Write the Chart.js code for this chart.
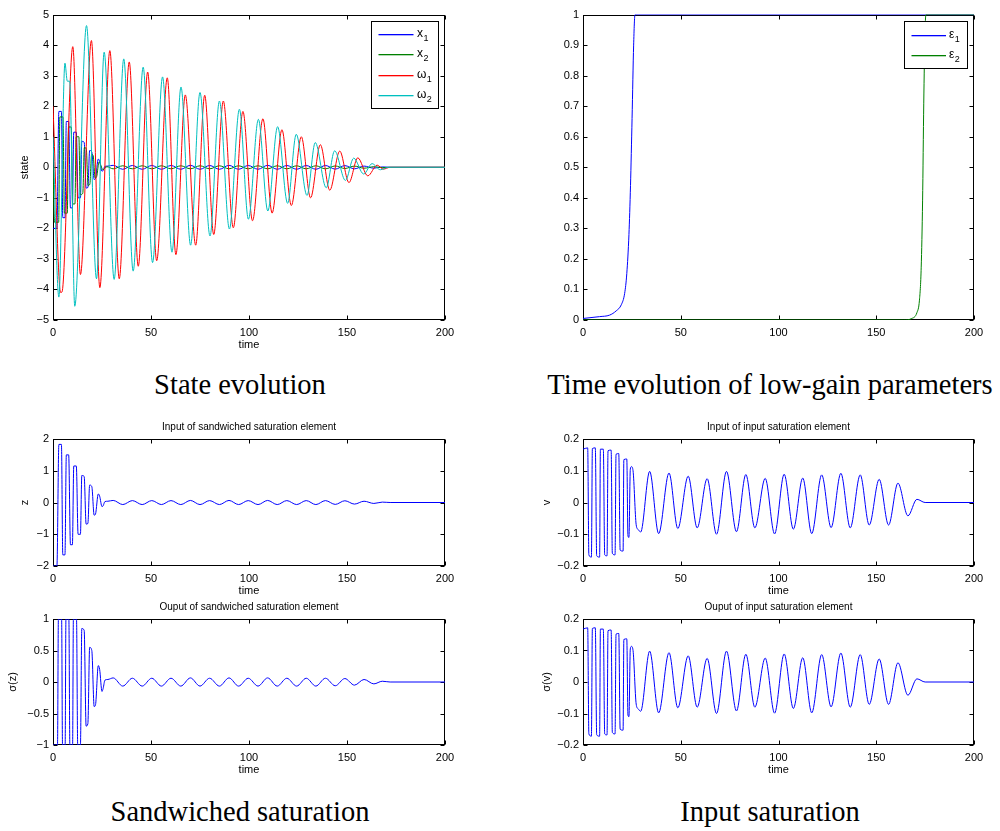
<!DOCTYPE html>
<html><head><meta charset="utf-8">
<script src="https://cdn.jsdelivr.net/npm/chart.js@4.4.0/dist/chart.umd.min.js"></script>
<style>
body{margin:0;background:#fff;width:1000px;height:831px;position:relative;overflow:hidden}
canvas{position:absolute}
.cap{position:absolute;width:500px;text-align:center;font-family:'Liberation Serif','Times New Roman',serif;font-size:28.5px;line-height:32px;color:#000;white-space:nowrap}
</style></head><body>
<canvas id="cA"></canvas><canvas id="cB"></canvas>
<canvas id="cC"></canvas><canvas id="cD"></canvas>
<canvas id="cE"></canvas><canvas id="cF"></canvas>
<div class="cap" style="left:-10px;top:369px">State evolution</div>
<div class="cap" style="left:520px;top:369px">Time evolution of low-gain parameters</div>
<div class="cap" style="left:-10px;top:796px">Sandwiched saturation</div>
<div class="cap" style="left:520px;top:796px">Input saturation</div>
<script>
// ---------- data (time, value) ----------
const timeTicks = [0, 50, 100, 150, 200];

const x1 = [[0,-2],[2.0,-2],[3.0,1.83],[4.3,1.83],[5.0,-1.65],[6.1,-1.65],[6.8,1.5],[8.0,1.5],[8.9,-1.33],[9.9,-1.33],[10.6,1.15],[11.9,1.15],[12.8,-1.0],[14.0,-1.0],[14.7,0.85],[15.9,0.82],[16.9,-0.68],[17.8,-0.66],[18.7,0.55],[19.8,0.5],[21.0,-0.4],[21.7,-0.36],[23.1,0.27],[23.8,0.2],[25.0,-0.13],[25.6,-0.1],[26.5,0.03],[28,0.04],
[30.7,0.065],[35.6,-0.065],[40.5,0.06],[45.5,-0.065],[50.4,0.06],[55.3,-0.065],[60.2,0.06],[65.2,-0.065],[70.1,0.065],[75.0,-0.065],[79.9,0.06],[84.9,-0.065],[89.8,0.065],[94.7,-0.065],[99.6,0.06],[104.6,-0.065],[109.5,0.065],[114.4,-0.065],[119.3,0.06],[124.3,-0.065],[129.2,0.06],[134.1,-0.065],[139.0,0.06],[144.0,-0.06],[148.9,0.055],[153.8,-0.05],[158.7,0.04],[163.7,-0.03],[168,0.012],[172,0],[200,0]];

const x2 = [[0,0],[0.8,-1.8],[2.9,-1.8],[3.5,1.65],[5.1,1.65],[5.8,-1.5],[7.3,-1.5],[7.9,1.32],[9.3,1.32],[10.0,-1.2],[11.2,-1.2],[11.8,1.0],[13.2,1.0],[13.9,-0.9],[15.2,-0.85],[16.0,0.65],[17.0,0.6],[17.9,-0.6],[18.8,-0.55],[19.7,0.42],[20.5,0.38],[21.5,-0.35],[22.3,-0.3],[23.5,0.18],[25.5,-0.08],[27.5,0.02],
[30.7,-0.05],[35.6,0.05],[40.5,-0.05],[45.5,0.05],[50.4,-0.05],[55.3,0.05],[60.2,-0.05],[65.2,0.05],[70.1,-0.05],[75.0,0.05],[79.9,-0.05],[84.9,0.05],[89.8,-0.05],[94.7,0.05],[99.6,-0.05],[104.6,0.05],[109.5,-0.05],[114.4,0.05],[119.3,-0.05],[124.3,0.05],[129.2,-0.05],[134.1,0.05],[139.0,-0.05],[144.0,0.045],[148.9,-0.04],[153.8,0.04],[158.7,-0.03],[163.7,0.02],[168,-0.01],[172,0],[200,0]];

const w1 = [[0,2.0],[3.9,-4.1],[4.6,-4.08],[10.1,3.95],[14.0,-3.51],[19.6,4.15],[23.9,-3.94],[29.0,3.82],[33.8,-3.65],[38.9,3.45],[43.5,-3.24],[48.3,3.12],[52.9,-3.06],[58.3,2.93],[62.7,-2.86],[67.5,2.37],[72.8,-2.55],[77.4,2.36],[82.0,-2.2],[86.9,2.17],[92.0,-1.98],[96.9,1.83],[101.8,-1.75],[107.1,1.59],[111.8,-1.5],[116.8,1.23],[121.6,-1.25],[126.7,1.0],[131.4,-1.0],[136.4,0.74],[141.2,-0.75],[146.3,0.53],[151.0,-0.5],[155.5,0.31],[160.6,-0.28],[165.4,0.07],[168.5,-0.06],[172,0],[200,0]];

const w2 = [[0,1.0],[3.0,-4.25],[6.1,3.41],[7.3,2.82],[8.5,2.82],[11.1,-4.55],[17.1,4.64],[22.2,-3.65],[26.1,3.77],[31.2,-3.67],[36.1,3.55],[40.9,-3.4],[46.0,3.28],[50.8,-3.12],[55.9,2.96],[60.7,-2.78],[65.3,2.63],[70.2,-2.55],[75.0,2.45],[80.1,-2.25],[84.9,2.17],[90.0,-2.02],[95.1,1.9],[99.7,-1.7],[104.8,1.57],[109.6,-1.43],[114.6,1.33],[119.7,-1.18],[124.1,1.08],[129.6,-0.92],[133.8,0.81],[139.4,-0.67],[143.7,0.54],[149.2,-0.43],[153.4,0.3],[158.5,-0.22],[162.8,0.12],[167,-0.08],[171,0],[200,0]];

const eps1 = [[0,0.005],[8.5,0.011],[13.6,0.016],[17,0.03],[19.6,0.05],[21.3,0.087],[22.4,0.152],[23.5,0.28],[24.3,0.44],[25.1,0.66],[25.9,0.9],[26.6,1],[200,1]];
const eps2 = [[0,0],[163.9,0],[168.2,0.005],[170.8,0.024],[172.1,0.065],[173,0.173],[173.7,0.39],[174.3,0.71],[174.9,0.93],[175.4,1],[200,1]];

const z = [[0,-2],[2.0,-2],[3.0,1.83],[4.3,1.83],[5.0,-1.65],[6.1,-1.65],[6.8,1.5],[8.0,1.5],[8.9,-1.33],[9.9,-1.33],[10.6,1.15],[11.9,1.15],[12.8,-1.0],[14.0,-1.0],[14.7,0.85],[15.9,0.82],[16.9,-0.68],[17.8,-0.66],[18.7,0.55],[19.8,0.5],[21.0,-0.4],[21.7,-0.36],[23.1,0.27],[23.8,0.2],[25.0,-0.13],[25.6,-0.1],[26.5,0.03],[28,0.04],
[30.7,0.065],[35.6,-0.065],[40.5,0.06],[45.5,-0.065],[50.4,0.06],[55.3,-0.065],[60.2,0.06],[65.2,-0.065],[70.1,0.065],[75.0,-0.065],[79.9,0.06],[84.9,-0.065],[89.8,0.065],[94.7,-0.065],[99.6,0.06],[104.6,-0.065],[109.5,0.065],[114.4,-0.065],[119.3,0.06],[124.3,-0.065],[129.2,0.06],[134.1,-0.065],[139.0,0.06],[144.0,-0.06],[148.9,0.055],[153.8,-0.05],[158.7,0.04],[163.7,-0.03],[168,0.012],[172,0],[200,0]];

const sigmaZ = [[0,-1],[2.3,-1],[2.75,1],[4.4,1],[4.85,-1],[6.2,-1],[6.6,1],[8.1,1],[8.6,-1],[10.0,-1],[10.4,1],[12.0,1],[12.6,-1],[14.0,-1],[14.7,0.85],[15.9,0.82],[16.9,-0.7],[17.8,-0.66],[18.7,0.55],[19.8,0.5],[21.0,-0.39],[21.7,-0.36],[23.1,0.26],[23.8,0.2],[25.0,-0.15],[25.6,-0.1],[26.5,0.03],[28,0.04],
[30.7,0.065],[35.6,-0.065],[40.5,0.06],[45.5,-0.065],[50.4,0.06],[55.3,-0.065],[60.2,0.06],[65.2,-0.065],[70.1,0.065],[75.0,-0.065],[79.9,0.06],[84.9,-0.065],[89.8,0.065],[94.7,-0.065],[99.6,0.06],[104.6,-0.065],[109.5,0.065],[114.4,-0.065],[119.3,0.06],[124.3,-0.065],[129.2,0.06],[134.1,-0.065],[139.0,0.06],[144.0,-0.06],[148.9,0.055],[153.8,-0.05],[158.7,0.04],[163.7,-0.03],[168,0.012],[172,0],[200,0]];

const v = [[0,0.168],[2.4,0.172],[3.0,-0.165],[4.3,-0.172],[4.8,0.17],[6.3,0.172],[7.0,-0.168],[8.5,-0.172],[8.9,0.168],[10.4,0.168],[11.1,-0.165],[12.3,-0.168],[12.8,0.163],[14.4,0.165],[15.0,-0.16],[16.4,-0.165],[16.9,0.152],[18.3,0.154],[19.0,-0.15],[20.5,-0.153],[20.9,0.135],[22.4,0.137],[23.0,-0.105],[23.5,-0.11],[24.2,0.105],[24.8,0.113],[25.6,0.1],[27.2,-0.07],[28.2,-0.085],[29.5,-0.093],
[34.1,0.098],[38.7,-0.098],[44.0,0.093],[48.5,-0.082],[53.8,0.083],[58.4,-0.08],[63.5,0.075],[68.3,-0.1],[73.4,0.098],[78.5,-0.092],[83.3,0.088],[87.9,-0.08],[93.2,0.076],[98.0,-0.099],[102.9,0.089],[107.6,-0.084],[112.4,0.077],[117.0,-0.098],[122.1,0.087],[126.9,-0.079],[131.9,0.092],[136.7,-0.08],[141.8,0.087],[146.4,-0.071],[151.5,0.073],[156.3,-0.071],[161.1,0.061],[166.2,-0.042],[170.8,0.01],[175,0],[200,0]];

const sigmaV = [[0,0.168],[2.4,0.172],[3.0,-0.165],[4.3,-0.172],[4.8,0.17],[6.3,0.172],[7.0,-0.168],[8.5,-0.172],[8.9,0.168],[10.4,0.168],[11.1,-0.165],[12.3,-0.168],[12.8,0.163],[14.4,0.165],[15.0,-0.16],[16.4,-0.165],[16.9,0.152],[18.3,0.154],[19.0,-0.15],[20.5,-0.153],[20.9,0.135],[22.4,0.137],[23.0,-0.105],[23.5,-0.11],[24.2,0.105],[24.8,0.113],[25.6,0.1],[27.2,-0.07],[28.2,-0.085],[29.5,-0.093],
[34.1,0.098],[38.7,-0.098],[44.0,0.093],[48.5,-0.082],[53.8,0.083],[58.4,-0.08],[63.5,0.075],[68.3,-0.1],[73.4,0.098],[78.5,-0.092],[83.3,0.088],[87.9,-0.08],[93.2,0.076],[98.0,-0.099],[102.9,0.089],[107.6,-0.084],[112.4,0.077],[117.0,-0.098],[122.1,0.087],[126.9,-0.079],[131.9,0.092],[136.7,-0.08],[141.8,0.087],[146.4,-0.071],[151.5,0.073],[156.3,-0.071],[161.1,0.061],[166.2,-0.042],[170.8,0.01],[175,0],[200,0]];

// ---------- rendering ----------
const FAM = "'Liberation Sans', Arial, Helvetica, sans-serif";
Chart.defaults.font.family = FAM;
Chart.defaults.font.size = 11;
Chart.defaults.color = '#000';

const fmt = val => String(Math.round(val * 100) / 100).replace('-', '\u2212');

const frameTicks = {
  id: 'frameTicks',
  beforeDatasetsDraw(chart) {
    const {ctx, chartArea: a, scales: {x, y}} = chart;
    const L = Math.round(a.left) + 0.5, R = Math.round(a.right) - 0.5;
    const T = Math.round(a.top) + 0.5, B = Math.round(a.bottom) - 0.5;
    const tl = 4;
    ctx.save();
    ctx.strokeStyle = '#000'; ctx.lineWidth = 1;
    ctx.strokeRect(L, T, R - L, B - T);
    ctx.beginPath();
    x.ticks.forEach(t => {
      const px = Math.round(x.getPixelForValue(t.value)) + 0.5;
      ctx.moveTo(px, B); ctx.lineTo(px, B - tl);
      ctx.moveTo(px, T); ctx.lineTo(px, T + tl);
    });
    y.ticks.forEach(t => {
      const py = Math.round(y.getPixelForValue(t.value)) + 0.5;
      ctx.moveTo(L, py); ctx.lineTo(L + tl, py);
      ctx.moveTo(R, py); ctx.lineTo(R - tl, py);
    });
    ctx.stroke();
    ctx.restore();
  }
};

const legendBox = {
  id: 'legendBox',
  afterDraw(chart, args, o) {
    if (!o || !o.show) return;
    const {ctx, chartArea: a} = chart;
    const bx = Math.round(a.right - o.right - o.w), by = Math.round(a.top + o.top);
    ctx.save();
    ctx.fillStyle = '#fff';
    ctx.fillRect(bx, by, o.w, o.h);
    ctx.strokeStyle = '#000'; ctx.lineWidth = 1;
    ctx.strokeRect(bx + 0.5, by + 0.5, o.w, o.h);
    ctx.textBaseline = 'middle';
    ctx.textAlign = 'left';
    chart.data.datasets.forEach((ds, i) => {
      const yy = Math.round(by + o.first + i * o.gap);
      ctx.fillStyle = o.colors[i];
      ctx.fillRect(bx + o.l1, yy, o.l2 - o.l1, 1.3);
      ctx.fillStyle = '#000';
      ctx.font = '12px ' + FAM;
      ctx.fillText(ds.label, bx + o.tx, yy);
      const mw = ctx.measureText(ds.label).width;
      ctx.font = '9px ' + FAM;
      ctx.fillText(ds.sub, bx + o.tx + mw + 0.5, yy + 5);
    });
    ctx.restore();
  }
};

const XH = 32, PR = 22;
function build(id, g, datasets, yScale, legendOpts) {
  const titleH = g.title ? 18 : 0;
  const PT = g.title ? 0 : 8;
  const cv = document.getElementById(id);
  const w = g.yw + (g.R - g.L) + PR;
  const h = PT + titleH + (g.B - g.T) + XH;
  cv.width = w; cv.height = h;
  cv.style.width = w + 'px'; cv.style.height = h + 'px';
  cv.style.left = (g.L - g.yw) + 'px';
  cv.style.top = (g.T - titleH - PT) + 'px';
  new Chart(cv, {
    type: 'line',
    data: {datasets},
    options: {
      responsive: false, animation: false, devicePixelRatio: 1,
      layout: {padding: {left: 0, right: PR, top: PT, bottom: 0}},
      elements: {point: {radius: 0}, line: {borderWidth: 1, cubicInterpolationMode: 'monotone'}},
      plugins: {
        legend: {display: false}, tooltip: {enabled: false},
        title: {display: !!g.title, text: g.title || '', fullSize: false, color: '#000',
                font: {size: 10, weight: 'normal', family: FAM}, padding: {top: 0, bottom: 6}},
        legendBox: legendOpts || {show: false}
      },
      scales: {
        x: {
          type: 'linear', min: timeTicks[0], max: timeTicks[timeTicks.length - 1],
          afterFit(s) { s.height = XH; },
          afterBuildTicks(s) { s.ticks = timeTicks.map(t => ({value: t})); },
          grid: {display: false, drawTicks: false, tickLength: 0}, border: {display: false},
          ticks: {padding: 6, maxRotation: 0, autoSkip: false, callback: fmt},
          title: {display: g.xTitle !== false, text: 'time', padding: 0}
        },
        y: {
          type: 'linear', min: yScale.min, max: yScale.max,
          afterFit(s) { s.width = g.yw; },
          grid: {display: false, drawTicks: false, tickLength: 0}, border: {display: false},
          ticks: {stepSize: yScale.step, padding: 4, autoSkip: false, callback: fmt},
          title: {display: !!g.yTitle, text: g.yTitle || '', padding: 0}
        }
      }
    },
    plugins: [frameTicks, legendBox]
  });
}
const pts = arr => arr.map(([t, y]) => ({x: t, y}));
const BLUE = '#0000ff', GREEN = '#008000', RED = '#ff0000', CYAN = '#00bfbf';

build('cA', {L: 53, T: 12, R: 445, B: 320, yw: 35, yTitle: 'state'}, [
  {label: 'x', sub: '1', data: pts(x1), borderColor: BLUE, order: 4},
  {label: 'x', sub: '2', data: pts(x2), borderColor: GREEN, order: 3},
  {label: '\u03c9', sub: '1', data: pts(w1), borderColor: RED, order: 2},
  {label: '\u03c9', sub: '2', data: pts(w2), borderColor: CYAN, order: 1}
], {min: -5, max: 5, step: 1}, {show: true, colors: [BLUE, GREEN, RED, CYAN], right: 7, top: 6, w: 67, h: 87, first: 12.5, gap: 20.5, l1: 7.5, l2: 42.5, tx: 46});

build('cB', {L: 583, T: 12, R: 974, B: 320, yw: 35, xTitle: false}, [
  {label: '\u03b5', sub: '1', data: pts(eps1), borderColor: BLUE, order: 2},
  {label: '\u03b5', sub: '2', data: pts(eps2), borderColor: GREEN, order: 1}
], {min: 0, max: 1, step: 0.1}, {show: true, colors: [BLUE, GREEN], right: 7, top: 6, w: 63, h: 47, first: 13.5, gap: 20, l1: 7.5, l2: 42, tx: 45});

build('cC', {L: 53, T: 439, R: 445, B: 566, yw: 35, yTitle: 'z', title: 'Input of sandwiched saturation element'},
  [{label: 'z', data: pts(z), borderColor: BLUE}], {min: -2, max: 2, step: 1});
build('cD', {L: 53, T: 619, R: 445, B: 745, yw: 47, yTitle: '\u03c3(z)', title: 'Ouput of sandwiched saturation element'},
  [{label: '\u03c3(z)', data: pts(sigmaZ), borderColor: BLUE}], {min: -1, max: 1, step: 0.5});
build('cE', {L: 583, T: 439, R: 974, B: 566, yw: 43, yTitle: 'v', title: 'Input of input saturation element'},
  [{label: 'v', data: pts(v), borderColor: BLUE}], {min: -0.2, max: 0.2, step: 0.1});
build('cF', {L: 583, T: 619, R: 974, B: 745, yw: 43, yTitle: '\u03c3(v)', title: 'Ouput of input saturation element'},
  [{label: '\u03c3(v)', data: pts(sigmaV), borderColor: BLUE}], {min: -0.2, max: 0.2, step: 0.1});
</script>
</body></html>
